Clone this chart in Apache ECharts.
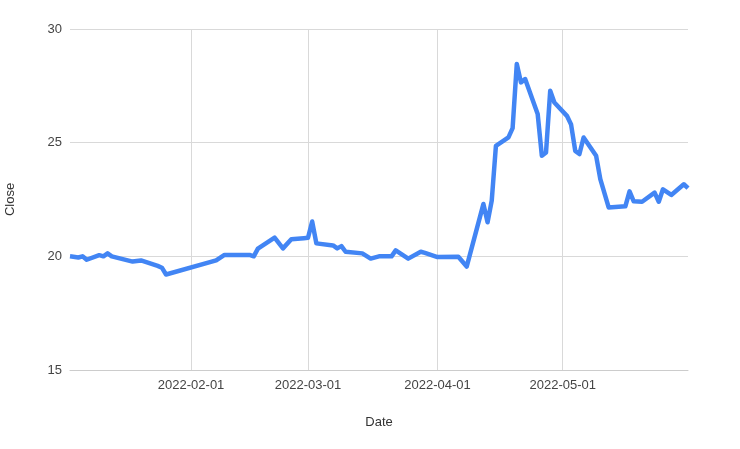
<!DOCTYPE html>
<html>
<head>
<meta charset="utf-8">
<script src="https://cdn.jsdelivr.net/npm/echarts@6/dist/echarts.min.js"></script>
<style>
  html, body { margin: 0; padding: 0; background: #fff; }
  #chart { width: 740px; height: 449px; }
</style>
</head>
<body>
<div id="chart"></div>
<script>
// closing price per date
var dates = [
  "2022-01-03", "2022-01-05", "2022-01-06", "2022-01-07", "2022-01-10", "2022-01-11",
  "2022-01-12", "2022-01-13", "2022-01-18", "2022-01-20", "2022-01-24", "2022-01-25",
  "2022-01-26", "2022-02-07", "2022-02-09", "2022-02-15", "2022-02-16", "2022-02-17",
  "2022-02-21", "2022-02-23", "2022-02-25", "2022-02-28", "2022-03-01", "2022-03-02",
  "2022-03-03", "2022-03-07", "2022-03-08", "2022-03-09", "2022-03-10", "2022-03-14",
  "2022-03-16", "2022-03-18", "2022-03-21", "2022-03-22", "2022-03-25", "2022-03-28",
  "2022-03-29", "2022-04-01", "2022-04-06", "2022-04-08", "2022-04-12", "2022-04-13",
  "2022-04-14", "2022-04-15", "2022-04-18", "2022-04-19", "2022-04-20", "2022-04-21",
  "2022-04-22", "2022-04-25", "2022-04-26", "2022-04-27", "2022-04-28", "2022-04-29",
  "2022-05-02", "2022-05-03", "2022-05-04", "2022-05-05", "2022-05-06", "2022-05-09",
  "2022-05-10", "2022-05-12", "2022-05-16", "2022-05-17", "2022-05-18", "2022-05-20",
  "2022-05-23", "2022-05-24", "2022-05-25", "2022-05-27", "2022-05-30", "2022-05-31"
];
var closeValues = [
  20.0, 19.95, 20.0, 19.85, 20.05, 20.0,
  20.13, 20.0, 19.77, 19.82, 19.58, 19.5,
  19.2, 19.82, 20.06, 20.06, 20.0, 20.34,
  20.82, 20.35, 20.75, 20.8, 20.82, 21.53,
  20.57, 20.48, 20.35, 20.45, 20.2, 20.13,
  19.9, 20.0, 20.0, 20.26, 19.9, 20.2,
  20.15, 19.97, 19.98, 19.55, 22.3, 21.5,
  22.45, 24.86, 25.23, 25.64, 28.46, 27.65,
  27.8, 26.26, 24.42, 24.57, 27.28, 26.77,
  26.18, 25.8, 24.64, 24.5, 25.23, 24.42,
  23.4, 22.15, 22.2, 22.86, 22.42, 22.4,
  22.8, 22.4, 22.95, 22.7, 23.17, 23.0
];
var monthTicks = ["2022-02-01", "2022-03-01", "2022-04-01", "2022-05-01"];
var yTicks = [15, 20, 25, 30];

function toTime(s) {
  var p = s.split("-");
  return new Date(+p[0], +p[1] - 1, +p[2]).getTime();
}
function pad(n) {
  return n < 10 ? "0" + n : "" + n;
}

var seriesData = dates.map(function (d, i) {
  return [toTime(d), closeValues[i]];
});

var myChart = echarts.init(document.getElementById("chart"));
var option = {
  backgroundColor: "#ffffff",
  textStyle: { fontFamily: "Arial, 'Liberation Sans', sans-serif" },
  grid: {
    left: 70,
    right: 52,
    top: 29,
    bottom: 79,
    outerBoundsMode: "none",
  },
  xAxis: {
    type: "value",
    min: toTime(dates[0]),
    max: toTime(dates[dates.length - 1]),
    name: "Date",
    nameLocation: "middle",
    nameGap: 46,
    nameTextStyle: { color: "#333", fontSize: 13 },
    axisLine: { show: true, lineStyle: { color: "#cccccc", width: 1 } },
    axisTick: { show: false, customValues: monthTicks.map(toTime) },
    axisLabel: {
      customValues: monthTicks.map(toTime),
      color: "#444",
      fontSize: 13,
      margin: 9,
      formatter: function (v) {
        var d = new Date(v);
        return d.getFullYear() + "-" + pad(d.getMonth() + 1) + "-" + pad(d.getDate());
      },
    },
    splitLine: { show: true, lineStyle: { color: "#d9d9d9", width: 1 } },
  },
  yAxis: {
    type: "value",
    min: yTicks[0],
    max: yTicks[yTicks.length - 1],
    interval: 5,
    name: "Close",
    nameLocation: "middle",
    nameGap: 53,
    nameRotate: 90,
    nameTextStyle: { color: "#333", fontSize: 13 },
    axisLine: { show: false },
    axisTick: { show: false },
    axisLabel: { color: "#444", fontSize: 13, margin: 8 },
    splitLine: { lineStyle: { color: "#d9d9d9", width: 1 } },
  },
  series: [
    {
      name: "Close",
      type: "line",
      data: seriesData,
      showSymbol: false,
      lineStyle: { color: "#4285f4", width: 4.5, join: "round" },
      itemStyle: { color: "#4285f4" },
      animation: false,
    },
  ],
};
myChart.setOption(option);
window.onresize = function () {
  myChart.resize();
};
</script>
</body>
</html>
